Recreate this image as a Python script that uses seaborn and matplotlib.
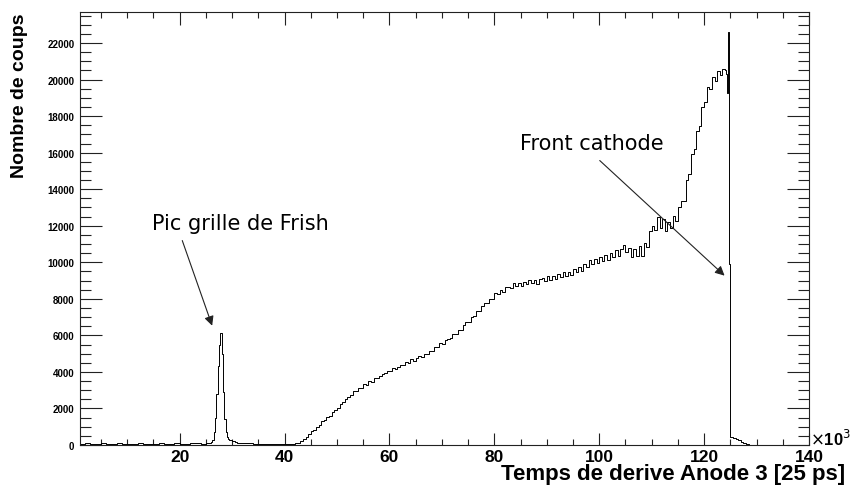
import numpy as np
import pandas as pd
import matplotlib
matplotlib.use("Agg")
import matplotlib.pyplot as plt
from matplotlib.ticker import MultipleLocator
import seaborn as sns

# Histogram of drift time, x in units of 10^3 (x 25 ps)
# flat region before the Frisch grid peak, bins of width 1
counts_flat1 = [70, 90, 80, 60, 90, 70, 80, 100, 70, 60, 80, 90, 70, 80, 60,
                90, 80, 70, 100, 80, 60, 90, 110, 80, 100]
# Frisch grid peak, bins of width 0.25 (26 -> 31)
counts_peak = [150, 300, 700, 1500, 2800, 4300, 5500, 6150, 5000, 2900, 1400,
               700, 450, 350, 300, 260, 230, 200, 170, 150]
# valley, bins of width 1 (31 -> 43)
counts_flat2 = [130, 110, 90, 80, 70, 70, 60, 70, 60, 70, 80, 120]
# rising part, bins of width 0.5 (43 -> 124)
counts_rise = [
    200, 320, 450, 600, 720, 860, 1000, 1110, 1260, 1380,
    1520, 1640, 1800, 1900, 2080, 2180, 2370, 2480, 2660, 2740,
    2900, 2990, 3100, 3150, 3260, 3320, 3450, 3500, 3620, 3680,
    3790, 3850, 3950, 3990, 4080, 4140, 4200, 4260, 4350, 4400,
    4490, 4530, 4640, 4660, 4750, 4780, 4870, 4920, 5010, 5100,
    5200, 5310, 5380, 5500, 5600, 5720, 5790, 5900, 6020, 6100,
    6220, 6350, 6520, 6650, 6800, 6960, 7120, 7250, 7410, 7560,
    7700, 7830, 7960, 8080, 8200, 8300, 8390, 8460, 8560, 8620,
    8690, 8720, 8770, 8800, 8820, 8850, 8880, 8890, 8900, 8930,
    8950, 8990, 9020, 9060, 9100, 9140, 9180, 9210, 9250, 9290,
    9320, 9360, 9400, 9430, 9470, 9530, 9600, 9700, 9800, 9880,
    9950, 10000, 10050, 10100, 10150, 10180, 10200, 10280, 10350, 10400,
    10450, 10520, 10600, 10650, 10700, 10580, 10450, 10480, 10500, 10520,
    10550, 10780, 11000, 11400, 11800, 12000, 12200, 12100, 12000, 11950,
    11900, 12100, 12300, 12550, 12800, 13200, 13600, 14300, 15000, 15700,
    16400, 17050, 17700, 18300, 18900, 19300, 19700, 19900, 20100, 20250,
    20350, 20450,
]
# small wiggles seen on the rising part
wiggle_rise = [
    0, 20, -30, 10, 30, -20, 10, -30, 40, -10,
    20, -40, 30, 0, -30, 40, -20, 30, -40, 20,
    50, -30, 20, -40, 60, -20, 30, -50, 40, 10,
    -40, 60, -30, 40, -20, 50, -60, 30, 20, -40,
    60, -30, 50, -60, 30, 70, -40, 50, -30, 60,
    -50, 80, -40, 60, -70, 50, 30, -60, 80, -40,
    60, -80, 50, 70, -60, 40, -80, 90, -50, 60,
    80, -70, 50, -90, 100, -60, 80, -100, 70, 50,
    -90, 120, -80, 60, -110, 90, -70, 130, -60, 100,
    -120, 80, 110, -90, 140, -100, 70, -130, 120, -80,
    150, -110, 90, -140, 160, -70, 120, -150, 100, -130,
    170, -120, 140, -160, 130, -90, 180, -140, 160, -120,
    200, -170, 150, 300, -120, 200, -180, 250, -150, 380,
    -200, 260, -150, 320, 200, -250, 300, -200, 350, -250,
    300, -200, 250, -300, 200, 150, -250, 200, -150, 250,
    -200, 150, -250, 200, -150, 300, -200, 250, -150, 200,
    -100, 150,
]
# end of the spectrum, bins of width 0.2 (124 -> 125)
counts_edge = [20550, 20300, 19250, 22600, 9900]
# tail, bins of width 0.5 (125 -> 128.5), then empty up to 140
counts_tail = [420, 370, 320, 250, 180, 110, 40]

edges = np.concatenate([
    np.arange(1, 26, 1.0),
    np.arange(26, 31, 0.25),
    np.arange(31, 43, 1.0),
    np.arange(43, 124, 0.5),
    np.arange(124, 125, 0.2),
    np.arange(125, 128.5, 0.5),
    [128.5, 140.0],
])
counts = np.concatenate([
    counts_flat1,
    counts_peak,
    counts_flat2,
    np.array(counts_rise) + np.array(wiggle_rise),
    counts_edge,
    counts_tail,
    [0],
]).astype(float)
df = pd.DataFrame({"t": (edges[:-1] + edges[1:]) / 2, "n": counts})

sns.set_style("ticks")
plt.rcParams["font.family"] = ["Liberation Sans", "DejaVu Sans"]
plt.rcParams["text.color"] = "black"
plt.rcParams["xtick.color"] = "black"
plt.rcParams["ytick.color"] = "black"

fig = plt.figure(figsize=(8.51, 4.89), dpi=100)
ax = fig.add_axes([80 / 851, 43 / 489, 729 / 851, 433 / 489])

sns.histplot(data=df, x="t", weights="n", bins=edges.tolist(), element="step",
             fill=False, color="black", linewidth=0.7, ax=ax)

ax.set_xlim(1, 140)
ax.set_ylim(0, 23700)
ax.xaxis.set_major_locator(MultipleLocator(20))
ax.xaxis.set_minor_locator(MultipleLocator(5))
ax.yaxis.set_major_locator(MultipleLocator(2000))
ax.yaxis.set_minor_locator(MultipleLocator(500))

for s in ax.spines.values():
    s.set_visible(True)
    s.set_linewidth(0.8)
    s.set_color("#222222")

ax.tick_params(axis="x", which="both", direction="in", top=True, bottom=True,
               width=0.8, color="#222222", labelcolor="black")
ax.tick_params(axis="x", which="major", length=9, pad=3, labelsize=12.5)
ax.tick_params(axis="x", which="minor", length=4.5)
ax.tick_params(axis="y", which="both", direction="in", left=True, right=True,
               width=0.8, color="#222222", labelcolor="black")
ax.tick_params(axis="y", which="major", length=16, pad=4, labelsize=7)
ax.tick_params(axis="y", which="minor", length=8)
for lab in ax.get_xticklabels() + ax.get_yticklabels():
    lab.set_fontweight("bold")

ax.set_xlabel("")
ax.set_ylabel("")
fig.text(845 / 851, 1 - 475 / 489, "Temps de derive Anode 3 [25 ps]",
         ha="right", va="center", fontsize=16, fontweight="bold",
         color="black")
fig.text(20 / 851, 1 - 13 / 489, "Nombre de coups", rotation=90,
         ha="center", va="top", fontsize=14, fontweight="bold", color="black")
fig.text(810 / 851, 1 - 439 / 489, r"$\times$10$^{3}$",
         ha="left", va="center", fontsize=12, fontweight="bold", color="black")

# annotations
ax.annotate("", xy=(26.2, 6530), xytext=(20.5, 11190),
            arrowprops=dict(arrowstyle="-|>", color="#222222", lw=0.8,
                            mutation_scale=14, shrinkA=0, shrinkB=0))
ax.text(14.8, 11830, "Pic grille de Frish", family="DejaVu Sans",
        fontsize=15, ha="left", va="baseline", color="black")
ax.annotate("", xy=(123.9, 9270), xytext=(100.1, 15570),
            arrowprops=dict(arrowstyle="-|>", color="#222222", lw=0.8,
                            mutation_scale=14, shrinkA=0, shrinkB=0))
ax.text(84.9, 16210, "Front cathode", family="DejaVu Sans",
        fontsize=15, ha="left", va="baseline", color="black")

fig.savefig("out.png", dpi=100)
